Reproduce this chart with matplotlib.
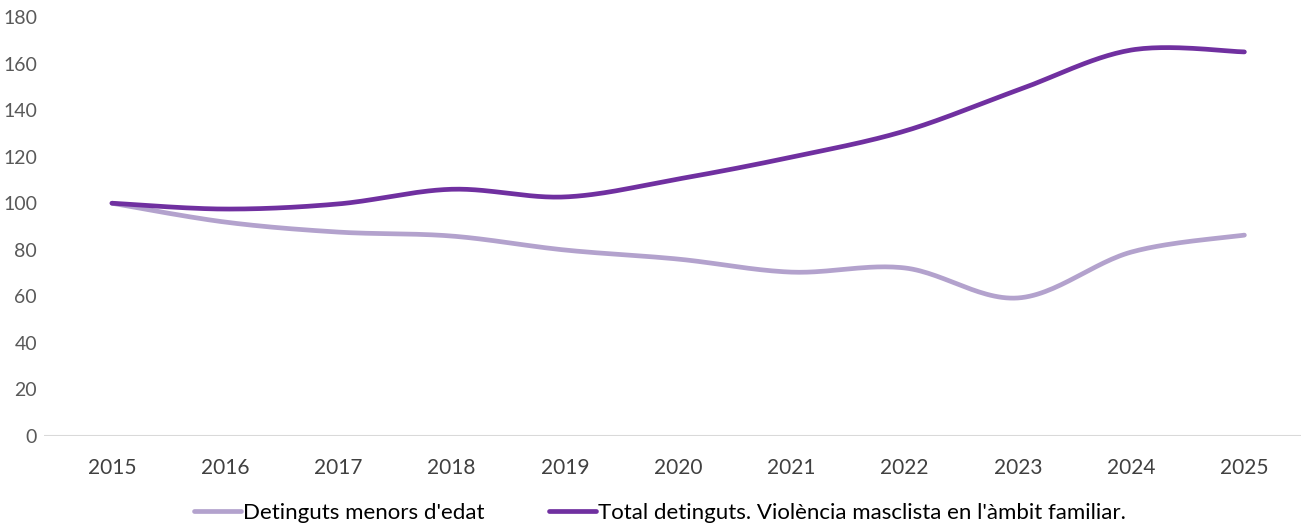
import numpy as np
import matplotlib.pyplot as plt

years = [2015, 2016, 2017, 2018, 2019, 2020, 2021, 2022, 2023, 2024, 2025]
menors = [100, 91.9, 87.6, 85.9, 79.9, 76.0, 70.4, 72.2, 59.3, 79.0, 86.3]
total = [100, 97.5, 99.7, 106.0, 102.7, 110.4, 119.8, 131.0, 148.6, 165.8, 165.0]

label_menors = "Detinguts menors d'edat"
label_total = "Total detinguts. Violència masclista en l'àmbit familiar."


def smooth(x, y, n=30):
    # Excel-style smoothed line: cubic Bezier segments, tension 1/6
    x = np.asarray(x, float)
    y = np.asarray(y, float)
    px = np.concatenate([[x[0]], x, [x[-1]]])
    py = np.concatenate([[y[0]], y, [y[-1]]])
    t = np.linspace(0, 1, n)[:, None]
    xs, ys = [], []
    for i in range(1, len(px) - 2):
        p0 = np.array([px[i], py[i]])
        p3 = np.array([px[i + 1], py[i + 1]])
        c1 = p0 + (np.array([px[i + 1], py[i + 1]]) - np.array([px[i - 1], py[i - 1]])) / 6
        c2 = p3 - (np.array([px[i + 2], py[i + 2]]) - np.array([px[i], py[i]])) / 6
        pts = ((1 - t) ** 3) * p0 + 3 * ((1 - t) ** 2) * t * c1 + 3 * (1 - t) * t ** 2 * c2 + t ** 3 * p3
        xs.append(pts[:, 0])
        ys.append(pts[:, 1])
    return np.concatenate(xs), np.concatenate(ys)


plt.rcParams['font.family'] = ['Lato', 'DejaVu Sans']

fig = plt.figure(figsize=(13.06, 5.27), dpi=100)
ax = fig.add_axes([44 / 1306, 91 / 527, 1257 / 1306, 419 / 527])

sx, sy = smooth(years, menors)
ax.plot(sx, sy, color='#b3a2cd', lw=3.4, solid_capstyle='round', label=label_menors)
sx, sy = smooth(years, total)
ax.plot(sx, sy, color='#7030a0', lw=3.4, solid_capstyle='round', label=label_total)

ax.set_xlim(2015 - 0.6, 2025 + 0.5)
ax.set_ylim(0, 180)
ax.set_yticks(range(0, 181, 20))
ax.set_xticks(years)
ax.axhline(0, color='#d9d9d9', lw=1.5, zorder=0)
for s in ax.spines.values():
    s.set_visible(False)
ax.tick_params(axis='y', length=0, labelsize=14, labelcolor='#595959', pad=5)
ax.tick_params(axis='x', length=0, labelsize=15, labelcolor='#404040', pad=16)

ax.legend(loc='upper center', bbox_to_anchor=(0.49, -0.112), ncol=2, frameon=False,
          fontsize=16, handlelength=2.1, handletextpad=0.1, columnspacing=2.9)

plt.savefig('out.png', dpi=100)
